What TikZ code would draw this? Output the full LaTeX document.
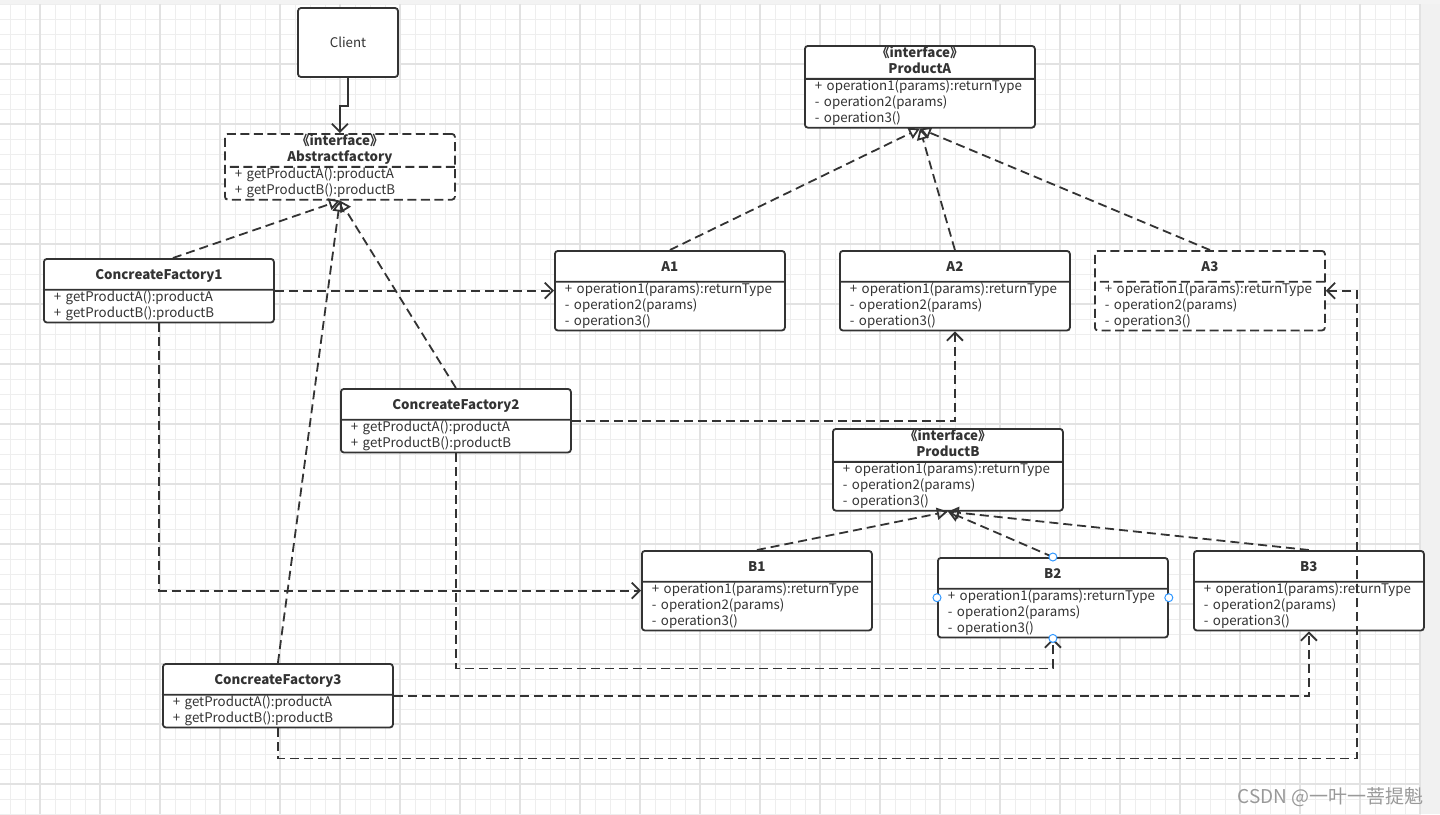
\documentclass[tikz,border=0pt]{standalone}
\usepackage{fontspec}
\setmainfont{Noto Sans CJK SC}
\usetikzlibrary{arrows.meta,calc,shapes.multipart}
\definecolor{ink}{HTML}{333333}
\definecolor{gridlo}{HTML}{EEEEEE}
\definecolor{gridhi}{HTML}{E2E2E2}
\definecolor{portblue}{HTML}{3399FF}
\tikzset{
%Define standard arrow tip
>={Straight Barb[length=8pt,width=16pt]},
%Define style for the board grid
grid minor/.style={draw=gridlo, line width=0.8pt},
grid major/.style={draw=gridhi, line width=1.3pt},
%Define style for class boxes
umlclass/.style={rectangle split, rectangle split parts=2, draw=ink, fill=white,
  line width=1.8pt, rounded corners=3pt, text width=210pt, inner xsep=10pt,
  inner ysep=-0.5pt, align=left, anchor=north west, text=ink,
  font=\fontsize{13.3}{16}\selectfont},
umliface/.style={umlclass, dash pattern=on 9pt off 4.5pt},
%Define style for connectors
depend/.style={->, ink, line width=1.8pt, dash pattern=on 9pt off 5pt},
realize/.style={-{Triangle[open,length=11pt,width=12pt]}, ink, line width=1.8pt,
  dash pattern=on 9pt off 5pt},
port/.style={circle, draw=portblue, fill=white, line width=1pt, inner sep=0pt,
  minimum size=8pt},
}
\newcommand\onehead[1]{\centering\rule[-10pt]{0pt}{30pt}\textbf{#1}\par}
\newcommand\twohead[1]{\centering\strut\textbf{《interface》}\\\textbf{#1}\strut\par}

\begin{document}
\begin{tikzpicture}[x=1pt,y=-1pt]
\useasboundingbox (0,0) rectangle (1440,814);
% Draw the board
\fill[gridlo!70] (0,0) rectangle (1440,4);
\foreach \x in {10,25,...,1420} \draw[grid minor] (\x,4) -- (\x,814);
\foreach \y in {4,19,...,814} \draw[grid minor] (0,\y) -- (1421,\y);
\foreach \x in {40,100,...,1420} \draw[grid major] (\x,4) -- (\x,814);
\foreach \y in {64,124,...,814} \draw[grid major] (0,\y) -- (1421,\y);
\fill[gridlo!80] (1421,4) rectangle (1440,814);

% Client and factories
\node[draw=ink, line width=1.8pt, rounded corners=3pt, fill=white, text=ink,
  minimum width=100pt, minimum height=69pt, font=\fontsize{13.3}{16}\selectfont]
  (client) at (348,42.5) {Client};
\node[umliface] (af) at (224,133) {\twohead{Abstractfactory}
  \nodepart{second}\strut+ getProductA():productA\\+ getProductB():productB\strut};
\node[umlclass] (cf1) at (43,258) {\onehead{ConcreateFactory1}
  \nodepart{second}\strut+ getProductA():productA\\+ getProductB():productB\strut};
\node[umlclass] (cf2) at (340,388) {\onehead{ConcreateFactory2}
  \nodepart{second}\strut+ getProductA():productA\\+ getProductB():productB\strut};
\node[umlclass] (cf3) at (162,663) {\onehead{ConcreateFactory3}
  \nodepart{second}\strut+ getProductA():productA\\+ getProductB():productB\strut};

% Products A
\node[umlclass] (pa) at (804,45) {\twohead{ProductA}
  \nodepart{second}\strut+ operation1(params):returnType\\- operation2(params)\\- operation3()\strut};
\node[umlclass] (a1) at (554,250) {\onehead{A1}
  \nodepart{second}\strut+ operation1(params):returnType\\- operation2(params)\\- operation3()\strut};
\node[umlclass] (a2) at (839,250) {\onehead{A2}
  \nodepart{second}\strut+ operation1(params):returnType\\- operation2(params)\\- operation3()\strut};
\node[umliface] (a3) at (1094,250) {\onehead{A3}
  \nodepart{second}\strut+ operation1(params):returnType\\- operation2(params)\\- operation3()\strut};

% Products B
\node[umlclass] (pb) at (832,428) {\twohead{ProductB}
  \nodepart{second}\strut+ operation1(params):returnType\\- operation2(params)\\- operation3()\strut};
\node[umlclass] (b1) at (641,550) {\onehead{B1}
  \nodepart{second}\strut+ operation1(params):returnType\\- operation2(params)\\- operation3()\strut};
\node[umlclass] (b2) at (937,557) {\onehead{B2}
  \nodepart{second}\strut+ operation1(params):returnType\\- operation2(params)\\- operation3()\strut};
\node[umlclass] (b3) at (1193,550) {\onehead{B3}
  \nodepart{second}\strut+ operation1(params):returnType\\- operation2(params)\\- operation3()\strut};

% Client uses the abstract factory
\draw[->, ink, line width=1.8pt] (client.south) -- ++(0,28) -| (af.north);
% Realizations
\draw[realize] ($(cf1.north)+(14,0)$) -- (af.south);
\draw[realize] (cf2.north) -- (af.south);
\draw[realize] (cf3.north) -- (af.south);
\draw[realize] (a1.north) -- (pa.south);
\draw[realize] (a2.north) -- (pa.south);
\draw[realize] (a3.north) -- (pa.south);
\draw[realize] (b1.north) -- (pb.south);
\draw[realize] (b2.north) -- (pb.south);
\draw[realize] (b3.north) -- (pb.south);
% Factories create products
\draw[depend] (cf1.east) -- (cf1.east -| a1.west);
\draw[depend] (cf1.south) |- (b1.west);
\draw[depend] (cf2.east) -| (a2.south);
\draw[depend] (cf2.south) |- ($(b2.south)+(0,30)$) -- (b2.south);
\draw[depend] (cf3.east) -| (b3.south);
\draw[depend] (cf3.south) -- ++(0,30) -| ($(a3.east)+(31,0)$) -- (a3.east);

% Selection handles on B2
\node[port] (b2n) at (b2.north) {};
\node[port] (b2s) at (b2.south) {};
\node[port] (b2w) at (b2.west) {};
\node[port] (b2e) at (b2.east) {};

% Watermark
\node[anchor=east, text=black!40, font=\fontsize{19}{22}\selectfont] (mark) at (1427,797) {CSDN @一叶一菩提魁};
\end{tikzpicture}
\end{document}
